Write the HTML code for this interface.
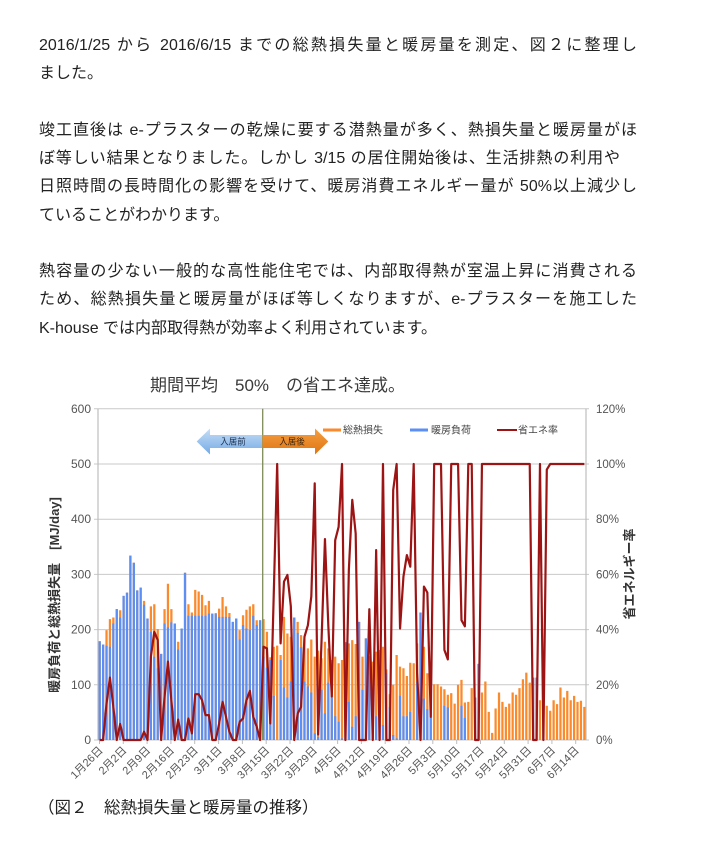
<!DOCTYPE html>
<html lang="ja">
<head>
<meta charset="utf-8">
<style>
html,body{margin:0;padding:0;background:#fff;}
body{width:712px;height:856px;overflow:hidden;position:relative;font-family:"Liberation Sans","Noto Sans CJK JP",sans-serif;color:#222;}
.ln{position:absolute;left:39px;font-size:16px;line-height:28px;height:28px;white-space:normal;}
.j{text-align:justify;text-align-last:justify;}
.cap{position:absolute;left:38px;top:794px;font-size:16.5px;line-height:28px;color:#222;white-space:nowrap;}
svg text{font-family:"Liberation Sans","Noto Sans CJK JP",sans-serif;}
</style>
</head>
<body>
<div class="ln j" style="top:31.6px;width:598px;">2016/1/25 から 2016/6/15 までの総熱損失量と暖房量を測定、図２に整理し</div>
<div class="ln" style="top:59.9px;">ました。</div>
<div class="ln j" style="top:116.6px;width:598px;">竣工直後は e-プラスターの乾燥に要する潜熱量が多く、熱損失量と暖房量がほ</div>
<div class="ln j" style="top:144.9px;width:581px;">ぼ等しい結果となりました。しかし 3/15 の居住開始後は、生活排熱の利用や</div>
<div class="ln j" style="top:173.2px;width:598px;">日照時間の長時間化の影響を受けて、暖房消費エネルギー量が 50%以上減少し</div>
<div class="ln" style="top:201.5px;">ていることがわかります。</div>
<div class="ln j" style="top:258.1px;width:598px;">熱容量の少ない一般的な高性能住宅では、内部取得熱が室温上昇に消費される</div>
<div class="ln j" style="top:286.4px;width:598px;">ため、総熱損失量と暖房量がほぼ等しくなりますが、e-プラスターを施工した</div>
<div class="ln" style="top:314.7px;">K-house では内部取得熱が効率よく利用されています。</div>

<svg width="712" height="856" viewBox="0 0 712 856" style="position:absolute;left:0;top:0;">
<defs>
<linearGradient id="gb" x1="0" y1="0" x2="0" y2="1"><stop offset="0" stop-color="#c6def6"/><stop offset="1" stop-color="#74aae4"/></linearGradient>
<linearGradient id="go" x1="0" y1="0" x2="0" y2="1"><stop offset="0" stop-color="#f5a044"/><stop offset="1" stop-color="#df7410"/></linearGradient>
</defs>
<!-- title -->
<text x="150" y="391" font-size="17" fill="#3a3a3a">期間平均　50%　の省エネ達成。</text>

<!-- gridlines -->
<g stroke="#c9c9c9" stroke-width="1">
<line x1="94" y1="408.8" x2="589" y2="408.8"/>
<line x1="94" y1="464" x2="589" y2="464"/>
<line x1="94" y1="519.2" x2="589" y2="519.2"/>
<line x1="94" y1="574.4" x2="589" y2="574.4"/>
<line x1="94" y1="629.6" x2="589" y2="629.6"/>
<line x1="94" y1="684.8" x2="589" y2="684.8"/>
<line x1="94" y1="740" x2="589" y2="740"/>
</g>
<g stroke="#bdbdbd" stroke-width="1.2">
<line x1="98" y1="408.8" x2="98" y2="740"/>
<line x1="586" y1="408.8" x2="586" y2="740"/>
</g>
<!-- x ticks -->
<g stroke="#bdbdbd" stroke-width="1">
<line x1="99.5" y1="740" x2="99.5" y2="744"/><line x1="123.3" y1="740" x2="123.3" y2="744"/><line x1="147.1" y1="740" x2="147.1" y2="744"/><line x1="170.9" y1="740" x2="170.9" y2="744"/><line x1="194.7" y1="740" x2="194.7" y2="744"/><line x1="218.6" y1="740" x2="218.6" y2="744"/><line x1="242.4" y1="740" x2="242.4" y2="744"/><line x1="266.2" y1="740" x2="266.2" y2="744"/><line x1="290" y1="740" x2="290" y2="744"/><line x1="313.8" y1="740" x2="313.8" y2="744"/><line x1="337.6" y1="740" x2="337.6" y2="744"/><line x1="361.4" y1="740" x2="361.4" y2="744"/><line x1="385.2" y1="740" x2="385.2" y2="744"/><line x1="409" y1="740" x2="409" y2="744"/><line x1="432.8" y1="740" x2="432.8" y2="744"/><line x1="456.7" y1="740" x2="456.7" y2="744"/><line x1="480.5" y1="740" x2="480.5" y2="744"/><line x1="504.3" y1="740" x2="504.3" y2="744"/><line x1="528.1" y1="740" x2="528.1" y2="744"/><line x1="551.9" y1="740" x2="551.9" y2="744"/><line x1="575.7" y1="740" x2="575.7" y2="744"/>
</g>

<!-- bars -->
<g transform="translate(98.57 740) scale(3.413 -0.552)">
<path fill="#fa8a2c" d="M0 0v179h.66V0zM1 0v173h.66V0zM2 0v199h.66V0zM3 0v219h.66V0zM4 0v222h.66V0zM5 0v237h.66V0zM6 0v235h.66V0zM7 0v261h.66V0zM8 0v267h.66V0zM9 0v334h.66V0zM10 0v321h.66V0zM11 0v271h.66V0zM12 0v276h.66V0zM13 0v252h.66V0zM14 0v220h.66V0zM15 0v242h.66V0zM16 0v246h.66V0zM17 0v201h.66V0zM18 0v156h.66V0zM19 0v237h.66V0zM20 0v283h.66V0zM21 0v237h.66V0zM22 0v211h.66V0zM23 0v178h.66V0zM24 0v202h.66V0zM25 0v303h.66V0zM26 0v246h.66V0zM27 0v231h.66V0zM28 0v272h.66V0zM29 0v269h.66V0zM30 0v263h.66V0zM31 0v244h.66V0zM32 0v252h.66V0zM33 0v229h.66V0zM34 0v230h.66V0zM35 0v238h.66V0zM36 0v259h.66V0zM37 0v242h.66V0zM38 0v230h.66V0zM39 0v214h.66V0zM40 0v220h.66V0zM41 0v199h.66V0zM42 0v226h.66V0zM43 0v236h.66V0zM44 0v242h.66V0zM45 0v246h.66V0zM46 0v217h.66V0zM47 0v217h.66V0zM48 0v219h.66V0zM49 0v196h.66V0zM50 0v150h.66V0zM51 0v169h.66V0zM52 0v171h.66V0zM53 0v154h.66V0zM54 0v223h.66V0zM55 0v193h.66V0zM56 0v187h.66V0zM57 0v222h.66V0zM58 0v214h.66V0zM59 0v190h.66V0zM60 0v182h.66V0zM61 0v166h.66V0zM62 0v182h.66V0zM63 0v151h.66V0zM64 0v162h.66V0zM65 0v148h.66V0zM66 0v178h.66V0zM67 0v166h.66V0zM68 0v145h.66V0zM69 0v151h.66V0zM70 0v139h.66V0zM71 0v145h.66V0zM72 0v177h.66V0zM73 0v175h.66V0zM74 0v181h.66V0zM75 0v174h.66V0zM76 0v214h.66V0zM77 0v151h.66V0zM78 0v184h.66V0zM79 0v152h.66V0zM80 0v142h.66V0zM81 0v160h.66V0zM82 0v163h.66V0zM83 0v169h.66V0zM84 0v128h.66V0zM85 0v83h.66V0zM86 0v100h.66V0zM87 0v154h.66V0zM88 0v133h.66V0zM89 0v130h.66V0zM90 0v116h.66V0zM91 0v140h.66V0zM92 0v139h.66V0zM93 0v175h.66V0zM94 0v231h.66V0zM95 0v169h.66V0zM96 0v121h.66V0zM97 0v100h.66V0zM98 0v101h.66V0zM99 0v101h.66V0zM100 0v97h.66V0zM101 0v92h.66V0zM102 0v82h.66V0zM103 0v85h.66V0zM104 0v66h.66V0zM105 0v100h.66V0zM106 0v109h.66V0zM107 0v68h.66V0zM108 0v69h.66V0zM109 0v94h.66V0zM110 0v77h.66V0zM111 0v138h.66V0zM112 0v86h.66V0zM113 0v106h.66V0zM114 0v51h.66V0zM115 0v13h.66V0zM116 0v57h.66V0zM117 0v86h.66V0zM118 0v69h.66V0zM119 0v60h.66V0zM120 0v66h.66V0zM121 0v86h.66V0zM122 0v82h.66V0zM123 0v94h.66V0zM124 0v110h.66V0zM125 0v122h.66V0zM126 0v104h.66V0zM127 0v113h.66V0zM128 0v113h.66V0zM129 0v72h.66V0zM130 0v82h.66V0zM131 0v62h.66V0zM132 0v53h.66V0zM133 0v72h.66V0zM134 0v65h.66V0zM135 0v95h.66V0zM136 0v77h.66V0zM137 0v89h.66V0zM138 0v72h.66V0zM139 0v80h.66V0zM140 0v69h.66V0zM141 0v71h.66V0zM142 0v60h.66V0z"/>
<path fill="#5b8ff4" d="M0 0v179h.66V0zM1 0v173h.66V0zM2 0v171h.66V0zM3 0v169h.66V0zM4 0v211h.66V0zM5 0v237h.66V0zM6 0v222h.66V0zM7 0v261h.66V0zM8 0v267h.66V0zM9 0v334h.66V0zM10 0v321h.66V0zM11 0v271h.66V0zM12 0v276h.66V0zM13 0v245h.66V0zM14 0v220h.66V0zM15 0v196h.66V0zM16 0v151h.66V0zM17 0v130h.66V0zM18 0v156h.66V0zM19 0v211h.66V0zM20 0v204h.66V0zM21 0v213h.66V0zM22 0v211h.66V0zM23 0v164h.66V0zM24 0v202h.66V0zM25 0v303h.66V0zM26 0v225h.66V0zM27 0v225h.66V0zM28 0v225h.66V0zM29 0v225h.66V0zM30 0v225h.66V0zM31 0v225h.66V0zM32 0v229h.66V0zM33 0v229h.66V0zM34 0v228h.66V0zM35 0v223h.66V0zM36 0v223h.66V0zM37 0v223h.66V0zM38 0v223h.66V0zM39 0v214h.66V0zM40 0v220h.66V0zM41 0v182h.66V0zM42 0v208h.66V0zM43 0v202h.66V0zM44 0v199h.66V0zM45 0v225h.66V0zM46 0v208h.66V0zM47 0v217h.66V0zM48 0v151h.66V0zM49 0v131h.66V0zM50 0v145h.66V0zM51 0v80h.66V0zM53 0v145h.66V0zM54 0v95h.66V0zM55 0v77h.66V0zM56 0v106h.66V0zM57 0v222h.66V0zM58 0v194h.66V0zM59 0v168h.66V0zM60 0v106h.66V0zM61 0v97h.66V0zM62 0v86h.66V0zM63 0v12h.66V0zM64 0v6h.66V0zM65 0v91h.66V0zM66 0v48h.66V0zM67 0v104h.66V0zM68 0v80h.66V0zM69 0v43h.66V0zM70 0v33h.66V0zM71 0v3h.66V0zM72 0v177h.66V0zM73 0v69h.66V0zM74 0v24h.66V0zM75 0v43h.66V0zM76 0v214h.66V0zM77 0v91h.66V0zM78 0v184h.66V0zM79 0v148h.66V0zM80 0v9h.66V0zM81 0v43h.66V0zM82 0v51h.66V0zM83 0v27h.66V0zM84 0v121h.66V0zM85 0v60h.66V0zM86 0v9h.66V0zM87 0v3h.66V0zM88 0v80h.66V0zM89 0v43h.66V0zM90 0v43h.66V0zM91 0v51h.66V0zM93 0v106h.66V0zM94 0v231h.66V0zM95 0v75h.66V0zM96 0v56h.66V0zM97 0v42h.66V0zM101 0v62h.66V0zM102 0v59h.66V0zM106 0v62h.66V0zM107 0v40h.66V0zM110 0v77h.66V0zM111 0v138h.66V0zM127 0v113h.66V0zM128 0v113h.66V0zM130 0v82h.66V0z"/>
</g>

<!-- move-in line -->
<line x1="262.7" y1="408.8" x2="262.7" y2="740" stroke="#7d8c56" stroke-width="1.3"/>

<!-- red line -->
<g transform="translate(99.7 740) scale(3.413 -0.552)">
<polyline fill="none" stroke="#9c1414" stroke-width="2.2" stroke-linejoin="round" vector-effect="non-scaling-stroke" points="0,0 1,0 2,66 3,113 4,60 5,0 6,29 7,0 8,0 9,0 10,0 11,0 12,0 13,15 14,0 15,151 16,196 17,181 18,0 19,78 20,142 21,72 22,0 23,37 24,0 25,0 26,39 27,12 28,83 29,83 30,72 31,45 32,45 33,0 34,0 35,30 36,69 37,42 38,15 39,0 40,0 41,33 42,39 43,72 44,89 45,42 46,24 47,0 48,169 49,166 50,30 51,265 52,500 53,175 54,287 55,299 56,242 57,0 58,48 59,60 60,187 61,208 62,260 63,465 64,10 65,180 66,364 67,205 68,79 69,362 70,386 71,500 72,0 73,308 74,435 75,374 76,0 77,0 78,0 79,237 80,0 81,344 82,0 83,500 84,0 85,0 86,453 87,500 88,202 89,296 90,335 91,314 92,500 93,121 94,0 95,278 96,267 97,42 98,500 99,500 100,500 101,163 102,146 103,500 104,500 105,500 106,217 107,206 108,500 109,500 110,0 111,0 112,500 113,500 114,500 115,500 116,500 117,500 118,500 119,500 120,500 121,500 122,500 123,500 124,500 125,500 126,500 127,0 128,0 129,500 130,0 131,490 132,500 133,500 134,500 135,500 136,500 137,500 138,500 139,500 140,500 141,500 142,500"/>
</g>

<!-- arrows -->
<polygon points="196.7,441.5 210,428.5 210,435 262,435 262,448 210,448 210,454.5" fill="url(#gb)"/>
<polygon points="262.5,435 315,435 315,428.5 328.3,441.5 315,454.5 315,448 262.5,448" fill="url(#go)"/>
<text x="233" y="444.5" font-size="8.5" fill="#1d2f4e" text-anchor="middle">入居前</text>
<text x="292" y="444.5" font-size="8.5" fill="#3a2208" text-anchor="middle">入居後</text>

<!-- legend -->
<rect x="323" y="428.5" width="18" height="3" fill="#fa8a2c"/>
<text x="343" y="433.5" font-size="10" fill="#444">総熱損失</text>
<rect x="410" y="428.5" width="18" height="3" fill="#5b8ff4"/>
<text x="431" y="433.5" font-size="10" fill="#444">暖房負荷</text>
<rect x="497" y="429" width="20" height="2" fill="#9c1414"/>
<text x="518" y="433.5" font-size="10" fill="#444">省エネ率</text>

<!-- left y labels -->
<g font-size="12" fill="#555" text-anchor="end">
<text x="91" y="412.8">600</text>
<text x="91" y="468">500</text>
<text x="91" y="523.2">400</text>
<text x="91" y="578.4">300</text>
<text x="91" y="633.6">200</text>
<text x="91" y="688.8">100</text>
<text x="91" y="744">0</text>
</g>
<!-- right y labels -->
<g font-size="11.5" fill="#555">
<text x="596" y="412.8">120%</text>
<text x="596" y="468">100%</text>
<text x="596" y="523.2">80%</text>
<text x="596" y="578.4">60%</text>
<text x="596" y="633.6">40%</text>
<text x="596" y="688.8">20%</text>
<text x="596" y="744">0%</text>
</g>

<!-- axis titles -->
<text transform="translate(59 595) rotate(-90)" text-anchor="middle" font-size="13" font-weight="bold" fill="#333">暖房負荷と総熱損失量　[MJ/day]</text>
<text transform="translate(634 574) rotate(-90)" text-anchor="middle" font-size="13" font-weight="bold" fill="#333">省エネルギー率</text>

<!-- x labels -->
<g font-size="11" fill="#555" text-anchor="end">
<text transform="translate(103.5 751) rotate(-45)">1月26日</text>
<text transform="translate(127.3 751) rotate(-45)">2月2日</text>
<text transform="translate(151.1 751) rotate(-45)">2月9日</text>
<text transform="translate(174.9 751) rotate(-45)">2月16日</text>
<text transform="translate(198.7 751) rotate(-45)">2月23日</text>
<text transform="translate(222.6 751) rotate(-45)">3月1日</text>
<text transform="translate(246.4 751) rotate(-45)">3月8日</text>
<text transform="translate(270.2 751) rotate(-45)">3月15日</text>
<text transform="translate(294 751) rotate(-45)">3月22日</text>
<text transform="translate(317.8 751) rotate(-45)">3月29日</text>
<text transform="translate(341.6 751) rotate(-45)">4月5日</text>
<text transform="translate(365.4 751) rotate(-45)">4月12日</text>
<text transform="translate(389.2 751) rotate(-45)">4月19日</text>
<text transform="translate(413 751) rotate(-45)">4月26日</text>
<text transform="translate(436.8 751) rotate(-45)">5月3日</text>
<text transform="translate(460.7 751) rotate(-45)">5月10日</text>
<text transform="translate(484.5 751) rotate(-45)">5月17日</text>
<text transform="translate(508.3 751) rotate(-45)">5月24日</text>
<text transform="translate(532.1 751) rotate(-45)">5月31日</text>
<text transform="translate(555.9 751) rotate(-45)">6月7日</text>
<text transform="translate(579.7 751) rotate(-45)">6月14日</text>
</g>
</svg>

<div class="cap">（図２　総熱損失量と暖房量の推移）</div>
</body>
</html>
